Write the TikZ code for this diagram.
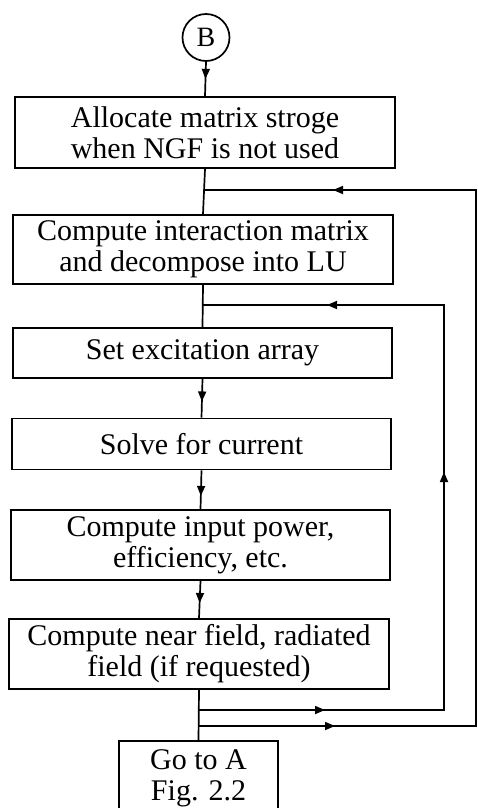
\documentclass[tikz,border=0pt]{standalone}
\usepackage{fontspec}
\setmainfont{Liberation Serif}
\usetikzlibrary{arrows.meta,decorations.markings}
\tikzset{
  box/.style={draw, line width=1.9pt, inner sep=0pt, align=center,
    font=\fontsize{30}{31}\selectfont},
  flow/.style={line width=1.7pt},
  tip/.style={postaction={decorate}, decoration={markings,
    mark=at position #1 with {\arrow{Triangle[length=10pt,width=8pt]}}}},
  tiptwo/.style 2 args={postaction={decorate}, decoration={markings,
    mark=at position #1 with {\arrow{Triangle[length=10pt,width=8pt]}},
    mark=at position #2 with {\arrow{Triangle[length=10pt,width=8pt]}}}},
  tipthree/.style n args={3}{postaction={decorate}, decoration={markings,
    mark=at position #1 with {\arrow{Triangle[length=10pt,width=8pt]}},
    mark=at position #2 with {\arrow{Triangle[length=10pt,width=8pt]}},
    mark=at position #3 with {\arrow{Triangle[length=10pt,width=8pt]}}}},
}
\begin{document}
\begin{tikzpicture}[x=1pt,y=-1pt]
\useasboundingbox (0,0) rectangle (477,808);
\clip (0,0) rectangle (477,808);
\fill[white] (0,0) rectangle (477,808);

\node[circle, draw, line width=1.7pt, minimum size=47pt, inner sep=0pt,
  font=\fontsize{28}{31}\selectfont] (B) at (206,37.5) {B};
\node[box, minimum width=380pt, minimum height=71pt] (b1) at (205,132.5)
  {Allocate matrix stroge\\when NGF is not used};
\node[box, minimum width=380pt, minimum height=69pt] (b2) at (203,249.5)
  {Compute interaction matrix\\and decompose into LU};
\node[box, minimum width=379pt, minimum height=50pt] (b3) at (202.5,353)
  {Set excitation array};
\node[box, minimum width=379pt, minimum height=51pt] (b4) at (201.5,444)
  {Solve for current};
\node[box, minimum width=379pt, minimum height=70pt] (b5) at (200.5,545)
  {Compute input power,\\efficiency, etc.};
\node[box, minimum width=380pt, minimum height=70pt] (b6) at (199,654)
  {Compute near field, radiated\\field (if requested)};
\node[box, minimum width=159pt, minimum height=74pt] (b7) at (198.5,778)
  {Go to A\\Fig. 2.2};

\coordinate (o1) at (476,190);
\coordinate (o2) at (476,726);
\coordinate (i1) at (444,305);
\coordinate (i2) at (444,710);
\coordinate (j1) at (b1.south |- o1);
\coordinate (j2) at (b2.south |- i1);
\coordinate (j3) at (b6.south |- i2);
\coordinate (j4) at (b6.south |- o2);

\draw[flow, tip=17pt] (B.south) -- (b1.north);
\draw[flow] (b1.south) -- (b2.north);
\draw[flow] (b2.south) -- (b3.north);
\draw[flow, tip=22.5pt] (b3.south) -- (b4.north);
\draw[flow, tip=25.5pt] (b4.south) -- (b5.north);
\draw[flow, tip=22pt] (b5.south) -- (b6.north);
\draw[flow] (b6.south) -- (b7.north);

\draw[flow, tiptwo={136pt}{956pt}] (j4) -- (o2) -- (o1) -- (j1);
\draw[flow, tipthree={126pt}{483pt}{767pt}] (j3) -- (i2) -- (i1) -- (j2);
\end{tikzpicture}
\end{document}
